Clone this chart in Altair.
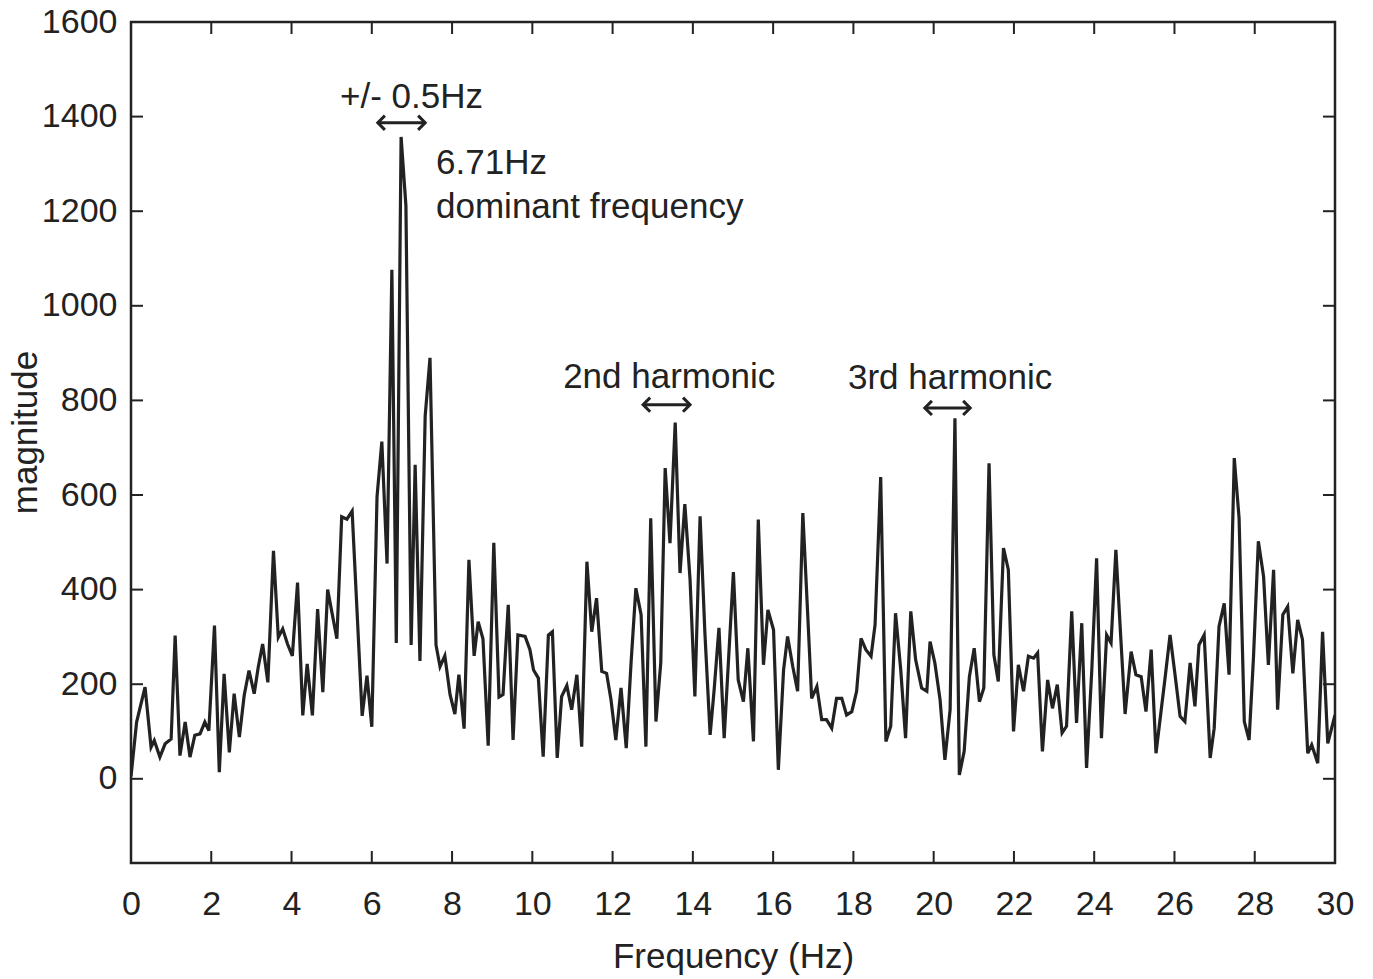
import altair as alt
import pandas as pd

# ---- data ----
freq = [0.0, 0.14, 0.35, 0.50, 0.58, 0.72, 0.85, 1.00, 1.10, 1.22, 1.35, 1.47, 1.59, 1.72, 1.84, 1.94,
        2.08, 2.20, 2.32, 2.45, 2.57, 2.70, 2.82, 2.94, 3.07, 3.17, 3.28, 3.41, 3.55, 3.67, 3.78, 3.90,
        4.02, 4.15, 4.28, 4.39, 4.52, 4.65, 4.78, 4.90, 5.13, 5.25, 5.38, 5.51, 5.76, 5.88, 6.00, 6.13,
        6.25, 6.38, 6.50, 6.61, 6.73, 6.85, 6.98, 7.08, 7.20, 7.33, 7.45, 7.60, 7.70, 7.82, 7.95, 8.07,
        8.17, 8.30, 8.42, 8.55, 8.65, 8.77, 8.90, 9.04, 9.17, 9.27, 9.40, 9.52, 9.64, 9.82, 9.94, 10.03,
        10.15, 10.27, 10.40, 10.50, 10.62, 10.73, 10.86, 10.98, 11.11, 11.23, 11.36, 11.48, 11.60, 11.73,
        11.85, 11.96, 12.08, 12.21, 12.34, 12.46, 12.58, 12.71, 12.83, 12.95, 13.08, 13.20, 13.31, 13.43,
        13.56, 13.68, 13.80, 13.93, 14.05, 14.18, 14.30, 14.43, 14.53, 14.65, 14.78, 15.01, 15.13, 15.26,
        15.37, 15.51, 15.63, 15.76, 15.87, 16.01, 16.13, 16.26, 16.36, 16.49, 16.61, 16.74, 16.86, 16.96,
        17.09, 17.21, 17.33, 17.46, 17.58, 17.71, 17.83, 17.96, 18.08, 18.19, 18.31, 18.44, 18.54, 18.68,
        18.81, 18.93, 19.05, 19.18, 19.30, 19.43, 19.55, 19.70, 19.83, 19.91, 20.03, 20.16, 20.28, 20.41,
        20.53, 20.64, 20.76, 20.89, 21.01, 21.14, 21.25, 21.38, 21.50, 21.61, 21.74, 21.86, 21.99, 22.11,
        22.24, 22.36, 22.49, 22.59, 22.71, 22.84, 22.96, 23.08, 23.20, 23.31, 23.44, 23.56, 23.69, 23.81,
        23.94, 24.06, 24.18, 24.31, 24.42, 24.54, 24.67, 24.77, 24.92, 25.04, 25.17, 25.29, 25.42, 25.54,
        25.67, 25.77, 25.89, 26.01, 26.14, 26.26, 26.39, 26.51, 26.61, 26.74, 26.89, 26.99, 27.11, 27.24,
        27.36, 27.49, 27.61, 27.74, 27.86, 27.97, 28.09, 28.22, 28.34, 28.47, 28.57, 28.70, 28.82, 28.95,
        29.07, 29.19, 29.32, 29.42, 29.57, 29.69, 29.82, 30.0]

magnitude = [5, 120, 194, 67, 81, 46, 74, 84, 303, 49, 120, 46, 92, 95, 120, 102,
             324, 14, 222, 56, 180, 88, 176, 229, 180, 236, 285, 204, 482, 299, 317, 285,
             260, 415, 134, 243, 134, 359, 183, 400, 296, 554, 549, 566, 133, 218, 110, 596,
             713, 455, 1076, 287, 1357, 1212, 283, 664, 249, 767, 890, 283, 237, 260, 178, 137,
             220, 106, 463, 260, 332, 296, 70, 499, 173, 178, 368, 82, 304, 301, 273, 230,
             213, 47, 304, 311, 44, 174, 197, 146, 220, 68, 459, 311, 382, 227,
             223, 167, 82, 192, 65, 245, 403, 347, 68, 551, 121, 245, 657, 498,
             753, 435, 581, 421, 174, 555, 308, 93, 188, 319, 86, 437, 209, 163,
             276, 79, 548, 241, 357, 315, 19, 230, 301, 237, 185, 562, 350, 170,
             195, 125, 125, 107, 170, 170, 135, 142, 185, 297, 273, 259, 326, 638,
             79, 111, 350, 230, 86, 354, 252, 192, 185, 290, 245, 167, 40, 146,
             762, 8, 58, 216, 276, 163, 192, 667, 262, 206, 488, 442, 100, 241,
             185, 259, 255, 266, 58, 209, 149, 199, 97, 111, 354, 118, 329, 23,
             230, 466, 86, 304, 287, 484, 287, 137, 269, 220, 216, 142, 273, 54,
             146, 216, 304, 223, 132, 121, 245, 153, 283, 304, 44, 107, 322, 371,
             220, 678, 551, 121, 82, 259, 502, 428, 241, 442, 146, 347, 364, 223,
             336, 294, 54, 72, 33, 311, 75, 135]

x_ticks = list(range(0, 31, 2))
y_ticks = list(range(0, 1601, 200))

center_labels = ["+/- 0.5Hz", "2nd harmonic", "3rd harmonic"]
center_f = [6.99, 13.41, 20.41]
center_m = [1442, 850, 848]

left_labels = ["6.71Hz", "dominant frequency"]
left_f = [7.60, 7.60]
left_m = [1302, 1209]

arrow_start = [6.15, 12.76, 19.78]
arrow_end = [7.33, 13.93, 20.91]
arrow_level = [1387, 791, 784]

# ---- chart ----
W, H = 1204, 841
FONT = "Liberation Sans"
INK = "#222222"

xs = alt.Scale(domain=[0, 30], nice=False, zero=False)
ys = alt.Scale(domain=[-178, 1600], nice=False, zero=False)

x_axis = alt.Axis(title="Frequency (Hz)", values=x_ticks, ticks=False, grid=False, domain=False,
                  labelFont=FONT, labelFontSize=34, labelColor=INK, labelPadding=24,
                  titleFont=FONT, titleFontSize=35, titleFontWeight="normal", titleColor=INK,
                  titlePadding=18, format="d", labelFlush=False)
y_axis = alt.Axis(title="magnitude", values=y_ticks, ticks=False, grid=False, domain=False,
                  labelFont=FONT, labelFontSize=34, labelColor=INK, labelPadding=14,
                  titleFont=FONT, titleFontSize=35, titleFontWeight="normal", titleColor=INK,
                  titlePadding=-2, titleY=410, format="d", labelFlush=False)

df = pd.DataFrame({"f": freq, "m": magnitude})

line = alt.Chart(df).mark_line(color=INK, strokeWidth=3.2, clip=True).encode(
    x=alt.X("f:Q", scale=xs, axis=x_axis),
    y=alt.Y("m:Q", scale=ys, axis=y_axis),
)

xt = pd.DataFrame({"t": x_ticks})
yt = pd.DataFrame({"t": y_ticks})
TL = 12
tick_style = dict(color=INK, strokeWidth=2)

bottom_ticks = alt.Chart(xt).mark_rule(**tick_style).encode(
    x=alt.X("t:Q", scale=xs, axis=x_axis), y=alt.value(H), y2=alt.value(H - TL))
top_ticks = alt.Chart(xt).mark_rule(**tick_style).encode(
    x=alt.X("t:Q", scale=xs, axis=x_axis), y=alt.value(0), y2=alt.value(TL))
left_ticks = alt.Chart(yt).mark_rule(**tick_style).encode(
    y=alt.Y("t:Q", scale=ys, axis=y_axis), x=alt.value(0), x2=alt.value(TL))
right_ticks = alt.Chart(yt).mark_rule(**tick_style).encode(
    y=alt.Y("t:Q", scale=ys, axis=y_axis), x=alt.value(W), x2=alt.value(W - TL))

ann_c = pd.DataFrame({"label": center_labels, "f": center_f, "m": center_m})
ann_l = pd.DataFrame({"label": left_labels, "f": left_f, "m": left_m})

text_c = alt.Chart(ann_c).mark_text(font=FONT, fontSize=35, color=INK, align="center",
                                    baseline="middle").encode(
    x=alt.X("f:Q", scale=xs, axis=x_axis), y=alt.Y("m:Q", scale=ys, axis=y_axis), text="label:N")
text_l = alt.Chart(ann_l).mark_text(font=FONT, fontSize=35, color=INK, align="left",
                                    baseline="middle").encode(
    x=alt.X("f:Q", scale=xs, axis=x_axis), y=alt.Y("m:Q", scale=ys, axis=y_axis), text="label:N")

arrows = pd.DataFrame({"a": arrow_start, "b": arrow_end, "m": arrow_level})
arrow_line = alt.Chart(arrows).mark_rule(color=INK, strokeWidth=3).encode(
    x=alt.X("a:Q", scale=xs, axis=x_axis), x2="b:Q", y=alt.Y("m:Q", scale=ys, axis=y_axis))
head_r = alt.Chart(arrows).mark_point(shape="M-1,-1L0,0L-1,1", size=200, filled=False,
                                      color=INK, strokeWidth=3, opacity=1).encode(
    x=alt.X("b:Q", scale=xs, axis=x_axis), y=alt.Y("m:Q", scale=ys, axis=y_axis))
head_l = alt.Chart(arrows).mark_point(shape="M1,-1L0,0L1,1", size=200, filled=False,
                                      color=INK, strokeWidth=3, opacity=1).encode(
    x=alt.X("a:Q", scale=xs, axis=x_axis), y=alt.Y("m:Q", scale=ys, axis=y_axis))

chart = alt.layer(
    line, bottom_ticks, top_ticks, left_ticks, right_ticks,
    arrow_line, head_r, head_l, text_c, text_l,
).properties(
    width=W, height=H,
    autosize=alt.AutoSizeParams(type="none"),
    padding={"left": 131, "top": 22, "right": 38, "bottom": 116},
    background="white",
).configure_view(
    stroke=INK, strokeWidth=2.5,
)

chart.save("out.html", embed_options={"renderer": "svg", "actions": False})
